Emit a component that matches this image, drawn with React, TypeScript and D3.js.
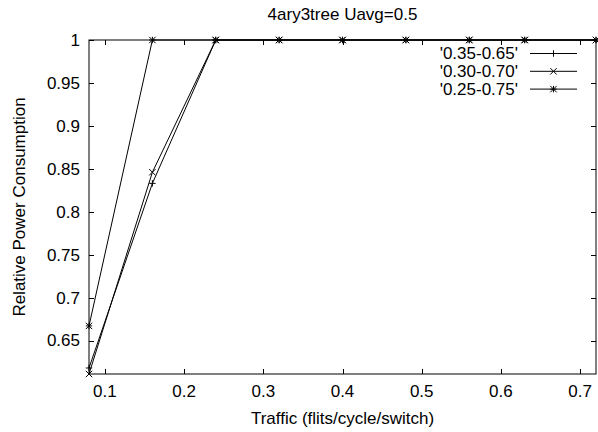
import React from "react";
import * as d3 from "d3";

const title = "4ary3tree Uavg=0.5";
const xLabel = "Traffic (flits/cycle/switch)";
const yLabel = "Relative Power Consumption";

const traffic = [0.08, 0.16, 0.24, 0.32, 0.4, 0.48, 0.56, 0.63, 0.72];
const s035 = [0.618, 0.833, 1, 1, 1, 1, 1, 1, 1];
const s030 = [0.611, 0.846, 1, 1, 1, 1, 1, 1, 1];
const s025 = [0.667, 1, 1, 1, 1, 1, 1, 1, 1];

const seriesNames = ["'0.35-0.65'", "'0.30-0.70'", "'0.25-0.75'"];
const seriesMarkers = ["plus", "cross", "star"];
const seriesValues = [s035, s030, s025];

const xTicks = [0.1, 0.2, 0.3, 0.4, 0.5, 0.6, 0.7];
const yTicks = [0.65, 0.7, 0.75, 0.8, 0.85, 0.9, 0.95, 1];

const W = 598;
const H = 432;
const left = 89;
const right = 596;
const top = 40;
const bottom = 374;
const FONT = "'Liberation Sans', Arial, Helvetica, sans-serif";
const FS = 17;

function markerPath(kind: string, x: number, y: number, s: number) {
  const plus = `M${x - s},${y}H${x + s}M${x},${y - s}V${y + s}`;
  const cross = `M${x - s},${y - s}L${x + s},${y + s}M${x - s},${y + s}L${x + s},${y - s}`;
  if (kind === "plus") return plus;
  if (kind === "cross") return cross;
  return plus + cross;
}

export default function App() {
  const x = d3.scaleLinear().domain([0.08, 0.72]).range([left, right]);
  const yMin = d3.min(seriesValues.flat()) as number;
  const y = d3.scaleLinear().domain([yMin, 1]).range([bottom, top]);
  const line = d3
    .line<[number, number]>()
    .x((d) => x(d[0]))
    .y((d) => y(d[1]));
  const tl = 5;
  const ms = 3.2;
  const legX1 = 530;
  const legX2 = 577;
  const legTextX = 518;
  const legY0 = 53.5;
  const legDy = 17.8;

  return (
    <svg
      width={W}
      height={H}
      viewBox={`0 0 ${W} ${H}`}
      style={{ position: "absolute", left: 0, top: 0, background: "#fff" }}
      fontFamily={FONT}
      fontSize={FS}
    >
      <rect x={0} y={0} width={W} height={H} fill="#fff" />
      <text x={(left + right) / 2} y={20} textAnchor="middle" fill="#000">
        {title}
      </text>
      {/* ticks */}
      <g stroke="#000" strokeWidth={1} fill="none">
        {xTicks.map((t) => (
          <path
            key={"xt" + t}
            d={`M${Math.round(x(t)) + 0.5},${bottom}v${-tl}M${Math.round(x(t)) + 0.5},${top}v${tl}`}
          />
        ))}
        {yTicks.map((t) => (
          <path
            key={"yt" + t}
            d={`M${left},${Math.round(y(t)) + 0.5}h${tl}M${right},${Math.round(y(t)) + 0.5}h${-tl}`}
          />
        ))}
      </g>
      {xTicks.map((t) => (
        <text key={"xl" + t} x={x(t)} y={397} textAnchor="middle" fill="#000">
          {String(+t.toFixed(2))}
        </text>
      ))}
      {yTicks.map((t) => (
        <text
          key={"yl" + t}
          x={80}
          y={y(t)}
          dy="0.35em"
          textAnchor="end"
          fill="#000"
        >
          {String(+t.toFixed(2))}
        </text>
      ))}
      <text
        transform={`translate(25,${(top + bottom) / 2}) rotate(-90)`}
        textAnchor="middle"
        fill="#000"
      >
        {yLabel}
      </text>
      <text x={(left + right) / 2} y={424} textAnchor="middle" fill="#000">
        {xLabel}
      </text>
      {/* series */}
      <g fill="none" stroke="#000" strokeWidth={1}>
        {seriesValues.map((vals, i) => (
          <g key={"s" + i}>
            <path d={line(traffic.map((t, j) => [t, vals[j]] as [number, number])) || ""} />
            {traffic.map((t, j) => (
              <path key={j} d={markerPath(seriesMarkers[i], x(t), y(vals[j]), ms)} />
            ))}
          </g>
        ))}
      </g>
      {/* legend */}
      {seriesNames.map((name, i) => {
        const ly = legY0 + i * legDy;
        return (
          <g key={"lg" + i}>
            <text x={legTextX} y={ly} dy="0.35em" textAnchor="end" fill="#000">
              {name}
            </text>
            <path d={`M${legX1},${ly}H${legX2}`} stroke="#000" strokeWidth={1} />
            <path
              d={markerPath(seriesMarkers[i], (legX1 + legX2) / 2, ly, ms)}
              stroke="#000"
              strokeWidth={1}
              fill="none"
            />
          </g>
        );
      })}
      <rect
        x={left}
        y={top}
        width={right - left}
        height={bottom - top}
        fill="none"
        stroke="#000"
        strokeWidth={1}
      />
    </svg>
  );
}
